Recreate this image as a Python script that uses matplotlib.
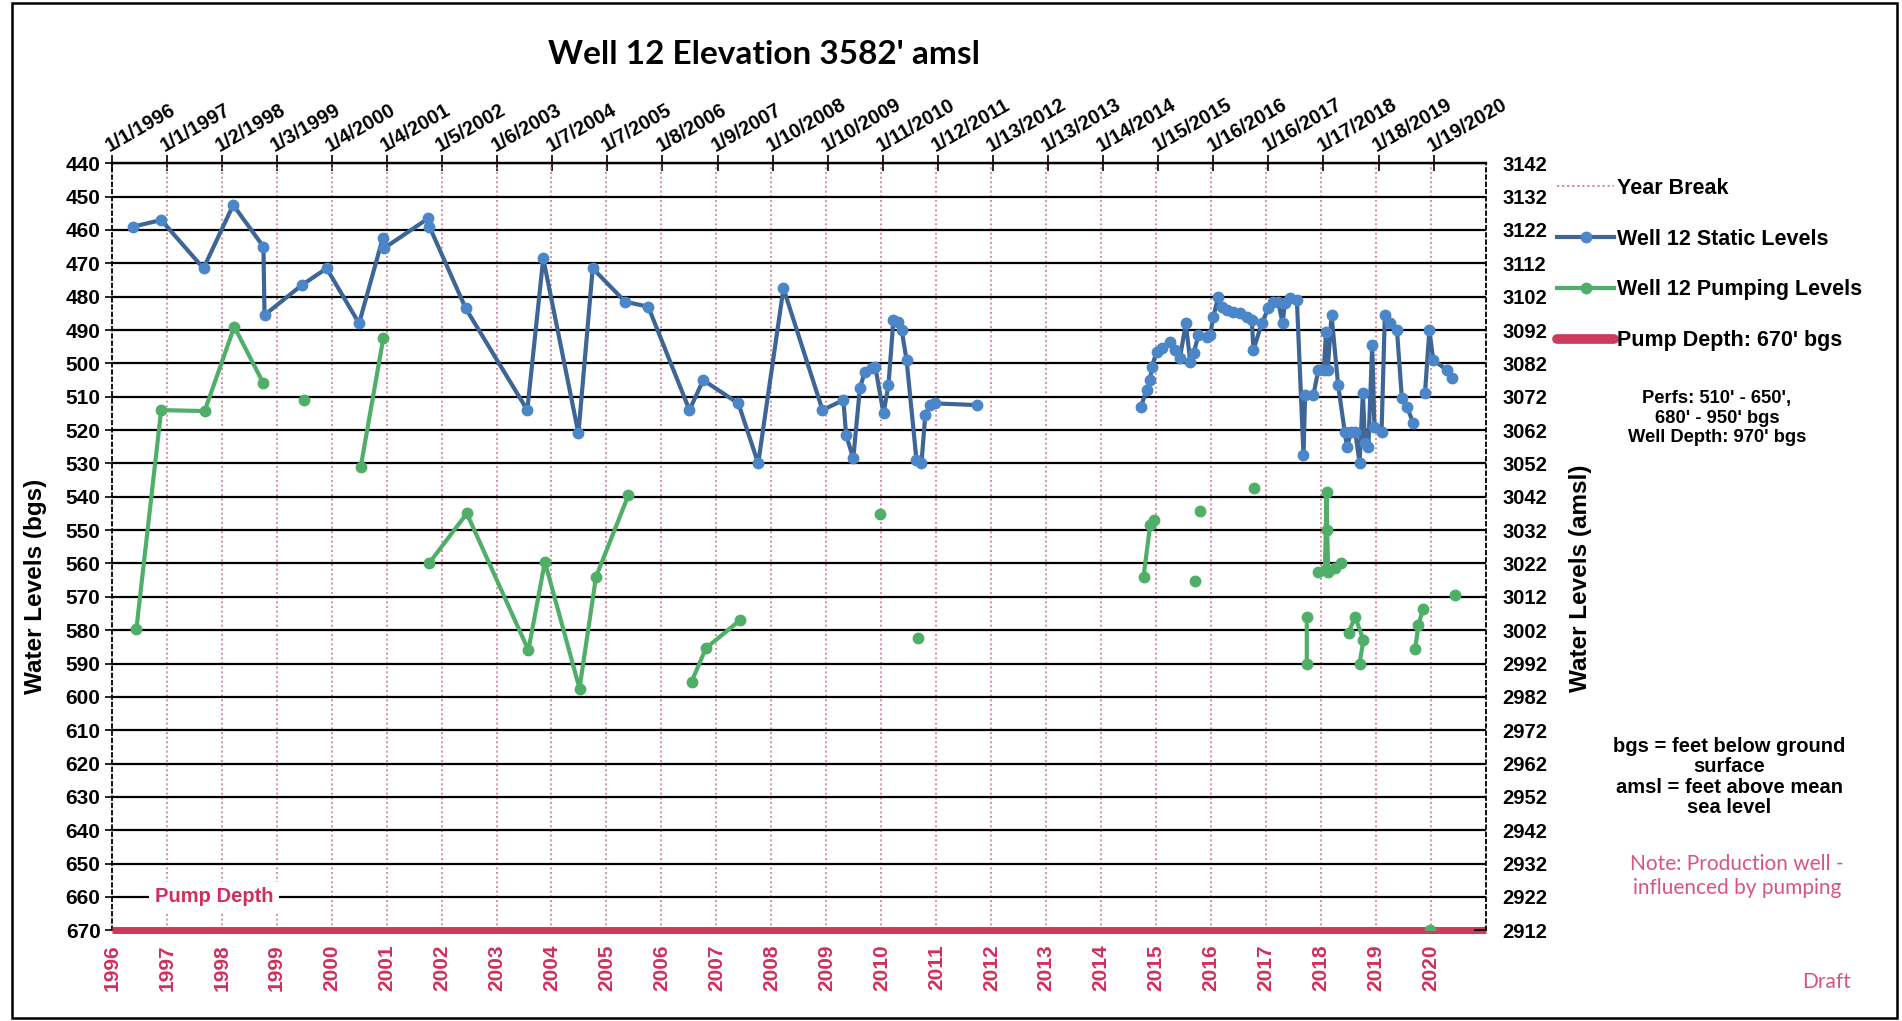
import matplotlib
matplotlib.use('Agg')
import matplotlib.pyplot as plt
from matplotlib.lines import Line2D
from matplotlib.patches import Rectangle
import numpy as np
from datetime import date

nan = np.nan

# Well 12 static levels: decimal year / feet below ground surface (nan = gap in line)
static_yr = [1996.39, 1996.90, 1997.67, 1998.21, 1998.76, 1998.78, 1999.46, 1999.91, 2000.50,
             2000.93, 2000.95, 2001.76, 2001.78, 2002.44, 2003.56, 2003.85, 2004.49, 2004.75,
             2005.34, 2005.76, 2006.51, 2006.76, 2007.40, 2007.76, 2008.22, 2008.93, 2009.31,
             2009.36, 2009.49, 2009.61, 2009.70, 2009.83, 2009.89, 2010.04, 2010.13, 2010.22,
             2010.31, 2010.37, 2010.46, 2010.64, 2010.73, 2010.80, 2010.89, 2010.98, 2011.74,
             nan,
             2014.72, 2014.83, 2014.89, 2014.92, 2015.01, 2015.10, 2015.25, 2015.34, 2015.43,
             2015.54, 2015.62, 2015.68, 2015.77, 2015.92, 2015.98, 2016.04, 2016.13, 2016.19,
             2016.28, 2016.40, 2016.53, 2016.65, 2016.74, 2016.77, 2016.92, 2017.04, 2017.13,
             2017.22, 2017.30, 2017.34, 2017.44, 2017.56, 2017.68, 2017.71, 2017.86, 2017.95,
             2018.05, 2018.09, 2018.12, 2018.19, 2018.31, 2018.43, 2018.47, 2018.55, 2018.62,
             2018.70, 2018.76, 2018.80, 2018.86, 2018.93, 2018.97, 2019.10, 2019.16, 2019.25,
             2019.38, 2019.47, 2019.56, 2019.68,
             nan,
             2019.89, 2019.97, 2020.04, 2020.29, 2020.39]
static_ft = [459, 457, 471.5, 452.5, 465, 485.5, 476.5, 471.5, 488,
             462.5, 465.5, 456.5, 459, 483.5, 514, 468.5, 521, 471.5,
             481.5, 483, 514, 505, 512, 530, 477.5, 514, 511,
             521.5, 528.5, 507.5, 502.5, 501.5, 501, 515, 506.5, 487,
             487.5, 490, 499, 529, 530, 515.5, 512.5, 512, 512.5,
             nan,
             513, 508, 505, 501, 496.5, 495.5, 493.5, 496, 498.5,
             488, 499.5, 497, 491.5, 492, 491.5, 486, 480, 483,
             484, 484.5, 485, 486, 487, 496, 488, 483.5, 481.5,
             481.5, 488, 482, 480.5, 481, 527.5, 509.5, 509.5, 502,
             502, 490.5, 502, 485.5, 506.5, 520.5, 525, 520.5, 520.5,
             529.8, 509, 524, 525, 494.5, 519, 520.5, 485.5, 488,
             490, 510.5, 513, 518,
             nan,
             509, 490, 499, 502, 504.3]

# Well 12 pumping levels
pump_yr = [1996.45, 1996.90, 1997.69, 1998.23, 1998.76, nan,
           1999.50, nan,
           2000.53, 2000.94, nan,
           2001.78, 2002.46, 2003.58, 2003.88, 2004.51, 2004.81, 2005.40, nan,
           2006.55, 2006.81, 2007.43, nan,
           2009.98, nan,
           2010.67, nan,
           2014.77, 2014.89, 2014.96, nan,
           2015.70, nan,
           2015.80, nan,
           2016.78, nan,
           2017.74, 2017.74, nan,
           2017.95, 2018.07, 2018.10, 2018.11, 2018.13, 2018.25, 2018.37, nan,
           2018.50, 2018.62, 2018.77, 2018.70, nan,
           2019.71, 2019.77, 2019.85, nan,
           2019.99, nan,
           2020.44]
pump_ft = [579.5, 514, 514.3, 489, 506, nan,
           511, nan,
           531, 492.5, nan,
           559.8, 545, 586, 559.5, 597.5, 564, 539.5, nan,
           595.4, 585.4, 577, nan,
           545.2, nan,
           582.4, nan,
           564, 548.5, 547, nan,
           565.2, nan,
           544.2, nan,
           537.5, nan,
           576, 590, nan,
           562.5, 562, 538.5, 550, 562.5, 561.5, 560, nan,
           580.7, 576, 583, 590, nan,
           585.7, 578.5, 573.8, nan,
           670, nan,
           569.5]

pump_depth = 670
elevation = 3582
years = list(range(1996, 2021))
top_labels = ['1/1/1996', '1/1/1997', '1/2/1998', '1/3/1999', '1/4/2000', '1/4/2001',
              '1/5/2002', '1/6/2003', '1/7/2004', '1/7/2005', '1/8/2006', '1/9/2007',
              '1/10/2008', '1/10/2009', '1/11/2010', '1/12/2011', '1/13/2012', '1/13/2013',
              '1/14/2014', '1/15/2015', '1/16/2016', '1/16/2017', '1/17/2018', '1/18/2019',
              '1/19/2020']


def dec_year(label):
    m, d, y = [int(s) for s in label.split('/')]
    d0 = date(y, 1, 1).toordinal()
    return y + (date(y, m, d).toordinal() - d0) / (date(y + 1, 1, 1).toordinal() - d0)


top_pos = [dec_year(s) for s in top_labels]

W, H = 1902, 1021
def fx(px): return px / W
def fy(py): return 1 - py / H

blue_line = '#3d6596'
blue_mk = '#4a86c8'
green = '#4fae68'
red = '#cc3a5e'
red_txt = '#d02f5c'
note_red = '#d9557f'
yb_col = '#d37d95'

bold = dict(family='Liberation Sans', weight='bold')

fig = plt.figure(figsize=(W / 100, H / 100), dpi=100)
ax = fig.add_axes([fx(111.7), fy(930.3), (1486 - 111.7) / W, (930.3 - 163.3) / H])
ax.set_xlim(1996, 2021)
ax.set_ylim(670, 440)

ax.set_yticks(range(440, 671, 10))
ax.grid(axis='y', color='black', lw=1.6)
ax.grid(axis='x', visible=False)
for yr in years[1:]:
    ax.axvline(yr, color=yb_col, ls=(0, (1.2, 1.6)), lw=1.2, zorder=1)

ax.axhline(pump_depth, color=red, lw=5, zorder=4, solid_capstyle='butt', clip_on=False)

ax.plot(static_yr, static_ft, color=blue_line, lw=3, marker='o', ms=7.5,
        mfc=blue_mk, mec=blue_mk, zorder=6)
ax.plot(pump_yr, pump_ft, color=green, lw=3, marker='o', ms=7.5,
        mfc=green, mec=green, zorder=5)

ax.text(1996.78, 660, 'Pump Depth', color=red_txt, fontsize=14.5,
        family=['Liberation Sans Narrow', 'Liberation Sans'], weight='bold',
        ha='left', va='center', zorder=3,
        bbox=dict(facecolor='white', edgecolor='none', pad=4))

# bottom year labels
ax.set_xticks(years, [str(y) for y in years])
for lab in ax.get_xticklabels():
    lab.set_rotation(90)
    lab.set_color(red_txt)
    lab.set_fontsize(15)
    lab.set_fontfamily('Liberation Sans')
    lab.set_fontweight('bold')
    lab.set_va('top')
ax.tick_params(axis='x', length=0, pad=10)

ax.tick_params(axis='y', direction='inout', length=10, width=1.2, pad=3, labelsize=15)
for lab in ax.get_yticklabels():
    lab.set_fontfamily('Liberation Sans')
    lab.set_fontweight('bold')

ax.spines['left'].set_linestyle((0, (2, 2)))
ax.spines['left'].set_linewidth(1.3)
ax.spines['right'].set_visible(False)
ax.spines['bottom'].set_visible(False)
ax.spines['top'].set_linewidth(1.6)

# top date axis
sec = ax.secondary_xaxis('top')
sec.set_xticks(top_pos, top_labels)
sec.tick_params(direction='inout', length=12, width=1.2, pad=0)
for lab in sec.get_xticklabels():
    lab.set_rotation(30)
    lab.set_ha('left')
    lab.set_va('bottom')
    lab.set_rotation_mode('anchor')
    lab.set_fontsize(14.3)
    lab.set_fontfamily('Liberation Sans')
    lab.set_fontweight('bold')
sec.spines['top'].set_linewidth(1.6)

# right amsl axis
ax2 = ax.twinx()
ax2.set_ylim(elevation - 670, elevation - 440)
ax2.set_yticks(range(elevation - 670, elevation - 439, 10))
ax2.tick_params(axis='y', direction='in', length=9, width=1.2, pad=12, labelsize=14.5)
for lab in ax2.get_yticklabels():
    lab.set_fontfamily('Liberation Sans')
    lab.set_fontweight('bold')
for s in ['left', 'top', 'bottom']:
    ax2.spines[s].set_visible(False)
ax2.spines['right'].set_linestyle((0, (2, 2)))
ax2.spines['right'].set_linewidth(1.3)

fig.text(fx(36), fy(586), 'Water Levels (bgs)', rotation=90, ha='center', va='center',
         fontsize=17.5, **bold)
fig.text(fx(1580), fy(578), 'Water Levels (amsl)', rotation=90, ha='center', va='center',
         fontsize=17.5, **bold)

fig.text(fx(764), fy(54), "Well 12 Elevation 3582' amsl", ha='center', va='center',
         fontsize=24, family='Lato', weight='bold')

handles = [Line2D([], [], color=yb_col, ls=(0, (1.2, 1.6)), lw=1.3),
           Line2D([], [], color=blue_line, lw=3, marker='o', ms=7.5, mfc=blue_mk, mec=blue_mk),
           Line2D([], [], color=green, lw=3, marker='o', ms=7.5, mfc=green, mec=green),
           Line2D([], [], color=red, lw=7, solid_capstyle='round')]
labels = ['Year Break', 'Well 12 Static Levels', 'Well 12 Pumping Levels', "Pump Depth: 670' bgs"]
fig.legend(handles, labels, loc='upper left', bbox_to_anchor=(fx(1557), fy(178)),
           frameon=False, prop=dict(family='Liberation Sans', weight='bold', size=15.5),
           handlelength=2.65, handletextpad=0.12, labelspacing=1.38, borderaxespad=0, borderpad=0)

fig.text(fx(1717), fy(418), "Perfs: 510' - 650',\n680' - 950' bgs\nWell Depth: 970' bgs",
         ha='center', va='center', fontsize=13.2, linespacing=1.2, **bold)
fig.text(fx(1729), fy(777), "bgs = feet below ground\nsurface\namsl = feet above mean\nsea level",
         ha='center', va='center', fontsize=14.5, linespacing=1.1, **bold)
fig.text(fx(1737), fy(876), "Note: Production well -\ninfluenced by pumping",
         ha='center', va='center', fontsize=15, linespacing=1.3, color=note_red, family='Lato')
fig.text(fx(1827), fy(982), 'Draft', ha='center', va='center', fontsize=15,
         color=note_red, family='Lato')

fig.patches.append(Rectangle((fx(12), fy(1018)), fx(1897) - fx(12), fy(3) - fy(1018),
                             transform=fig.transFigure, fill=False, edgecolor='black', lw=1.8))

fig.savefig('out.png', dpi=100)
